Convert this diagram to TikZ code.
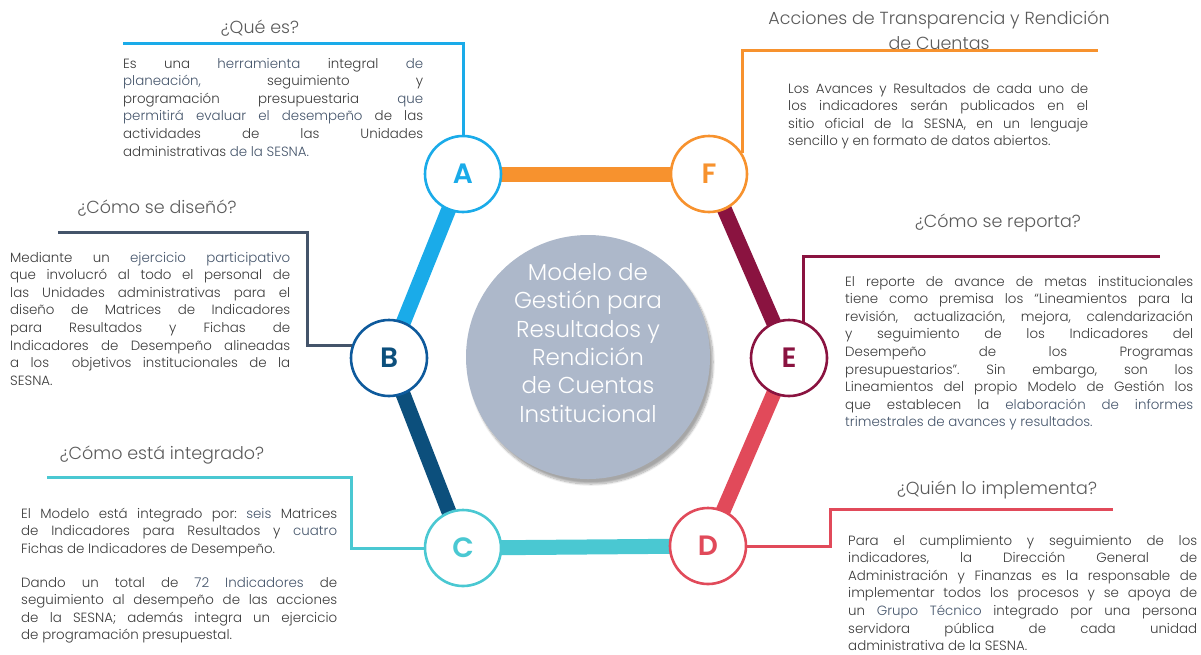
\documentclass[tikz,border=0pt]{standalone}
\usepackage{fontspec}
\setmainfont{Poppins Light}[BoldFont={Poppins SemiBold}]
\usetikzlibrary{shadows.blur}
\definecolor{cA}{HTML}{1AABE9}
\definecolor{cB}{HTML}{0E5A9C}
\definecolor{cBl}{HTML}{0C4F7C}
\definecolor{cC}{HTML}{4AC8D2}
\definecolor{cD}{HTML}{E14A5A}
\definecolor{cE}{HTML}{8A1340}
\definecolor{cF}{HTML}{F7922E}
\definecolor{slate}{HTML}{44546A}
\definecolor{bodygray}{HTML}{3A3A3A}
\definecolor{titlegray}{HTML}{5A5A5A}
\definecolor{centerfill}{HTML}{ADB8CA}
\newcommand\hl[1]{\textcolor{slate}{#1}}
\frenchspacing
\tikzset{
  edge/.style={line width=15pt},
  hexnode/.style={circle, draw=#1, text=#1, fill=white, line width=2.6pt, minimum size=76pt, inner sep=0pt, font=\bfseries\fontsize{28}{28}\selectfont},
  conn/.style={line width=3pt, draw=#1},
  body/.style={anchor=base west, inner sep=0pt, text width=#1, align=justify, font=\fontsize{13.4}{17.6}\selectfont\frenchspacing, text=bodygray},
  ttl/.style={inner sep=0pt, align=center, font=\fontsize{17.5}{25}\selectfont, text=titlegray},
}
\begin{document}
\begin{tikzpicture}[x=1pt,y=-1pt]
\useasboundingbox (0,0) rectangle (1201,654);
% hexagon positions
\coordinate (pA) at (463,174);
\coordinate (pF) at (709,174);
\coordinate (pB) at (389,358);
\coordinate (pE) at (789,358);
\coordinate (pC) at (463,548);
\coordinate (pD) at (708,546);
% edges
\draw[edge, cF] (pA) -- (pF);
\draw[edge, cE] (pF) -- (pE);
\draw[edge, cD] (pE) -- (pD);
\draw[edge, cC] (pD) -- (pC);
\draw[edge, cBl] (pC) -- (pB);
\draw[edge, cA] (pB) -- (pA);
% circles
\node[hexnode=cA] (A) at (pA) {A};
\node[hexnode=cF] (F) at (pF) {F};
\node[hexnode=cB, text=cBl] (B) at (pB) {B};
\node[hexnode=cE] (E) at (pE) {E};
\node[hexnode=cC] (C) at (pC) {C};
\node[hexnode=cD] (D) at (pD) {D};
% center
\node[circle, fill=centerfill, minimum size=244pt, inner sep=0pt,
  blur shadow={shadow xshift=3pt, shadow yshift=-5pt, shadow blur steps=10, shadow opacity=35}] (M) at (588,357) {};
\node[inner sep=0pt, align=center, text=white, font=\fontsize{23}{28.3}\selectfont] (Mt) at (588,343)
  {Modelo de\\Gestión para\\Resultados y\\Rendición\\de Cuentas\\Institucional};
% connector end points
\coordinate (Aend) at (123,43);
\coordinate (Fend) at (1098,50);
\coordinate (Bk) at (307,232);
\coordinate (Bend) at (58,232);
\coordinate (Eend) at (1160,256);
\coordinate (Ck) at (351,477);
\coordinate (Cend) at (47,477);
\coordinate (Dk) at (830,509);
\coordinate (Dend) at (1113,509);
% connectors
\draw[conn=cA] (A.north) |- (Aend);
\draw[conn=cF] (F.32) |- (Fend);
\draw[conn=slate] (B.162) -| (Bk) -- (Bend);
\draw[conn=cE] (E.68) |- (Eend);
\draw[conn=cC] (C.west) -| (Ck) -- (Cend);
\draw[conn=cD] (D.east) -| (Dk) -- (Dend);
% titles
\node[ttl] (tA) at (260,28) {¿Qué es?};
\node[ttl] (tF) at (939,30) {Acciones de Transparencia y Rendición\\de Cuentas};
\node[ttl] (tB) at (157,208) {¿Cómo se diseñó?};
\node[ttl] (tE) at (998,223) {¿Cómo se reporta?};
\node[ttl] (tC) at (162,455) {¿Cómo está integrado?};
\node[ttl] (tD) at (997,490) {¿Quién lo implementa?};
% bodies
\node[body=300pt] (bA) at (123,68) {Es una \hl{herramienta} integral \hl{de}\linebreak
\hl{planeación,} seguimiento y\linebreak
programación presupuestaria \hl{que}\linebreak
\hl{permitirá evaluar el desempeño} de las\linebreak
actividades de las Unidades\linebreak
administrativas \hl{de la SESNA.}};
\node[body=300pt] (bF) at (788,93) {Los Avances y Resultados de cada uno de\linebreak
los indicadores serán publicados en el\linebreak
sitio oficial de la SESNA, en un lenguaje\linebreak
sencillo y en formato de datos abiertos.};
\node[body=280pt] (bB) at (10,262) {Mediante un \hl{ejercicio participativo}\linebreak
que involucró al todo el personal de\linebreak
las Unidades administrativas para el\linebreak
diseño de Matrices de Indicadores\linebreak
para Resultados y Fichas de\linebreak
Indicadores de Desempeño alineadas\linebreak
a los\ \ objetivos institucionales de la\linebreak
SESNA.};
\node[body=348pt] (bE) at (845,286) {El reporte de avance de metas institucionales\linebreak
tiene como premisa los “Lineamientos para la\linebreak
revisión, actualización, mejora, calendarización\linebreak
y seguimiento de los Indicadores del\linebreak
Desempeño de los Programas\linebreak
presupuestarios”. Sin embargo, son los\linebreak
Lineamientos del propio Modelo de Gestión los\linebreak
que establecen la \hl{elaboración de informes}\linebreak
\hl{trimestrales de avances y resultados.}};
\node[body=316pt] (bC1) at (21,518) {El Modelo está integrado por: \hl{seis} Matrices\linebreak
de Indicadores para Resultados y \hl{cuatro}\linebreak
Fichas de Indicadores de Desempeño.};
\node[body=316pt] (bC2) at (21,587) {Dando un total de \hl{72 Indicadores} de\linebreak
seguimiento al desempeño de las acciones\linebreak
de la SESNA; además integra un ejercicio\linebreak
de programación presupuestal.};
\node[body=349pt] (bD) at (848,545) {Para el cumplimiento y seguimiento de los\linebreak
indicadores, la Dirección General de\linebreak
Administración y Finanzas es la responsable de\linebreak
implementar todos los procesos y se apoya de\linebreak
un \hl{Grupo Técnico} integrado por una persona\linebreak
servidora pública de cada unidad\linebreak
administrativa de la SESNA.};
\end{tikzpicture}
\end{document}
